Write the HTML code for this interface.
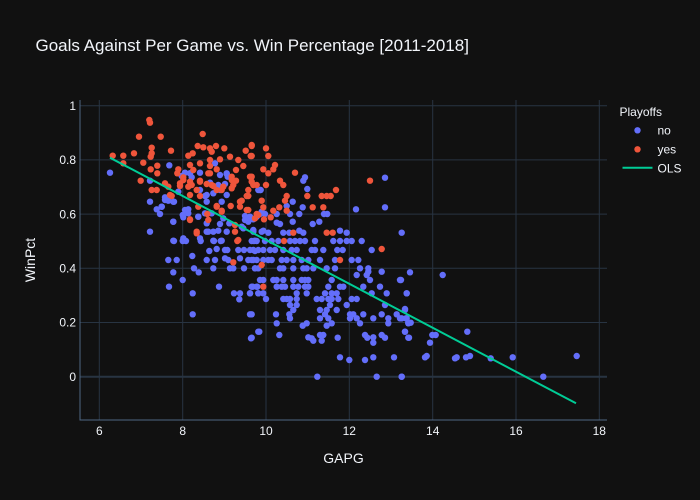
<!DOCTYPE html>
<html><head><meta charset="utf-8"><style>
html,body{margin:0;padding:0;background:#111111;}
svg{display:block;font-family:"Liberation Sans",Arial,sans-serif;}
</style></head><body>
<svg width="700" height="500" viewBox="0 0 700 500" xmlns="http://www.w3.org/2000/svg">
<rect width="700" height="500" fill="#111111"/>
<!-- grid -->
<g stroke="#283442" stroke-width="1">
<line x1="99.3" y1="100" x2="99.3" y2="420"/>
<line x1="182.7" y1="100" x2="182.7" y2="420"/>
<line x1="266" y1="100" x2="266" y2="420"/>
<line x1="349.3" y1="100" x2="349.3" y2="420"/>
<line x1="432.7" y1="100" x2="432.7" y2="420"/>
<line x1="516" y1="100" x2="516" y2="420"/>
<line x1="599.3" y1="100" x2="599.3" y2="420"/>
<line x1="80" y1="105.7" x2="607" y2="105.7"/>
<line x1="80" y1="159.9" x2="607" y2="159.9"/>
<line x1="80" y1="214.1" x2="607" y2="214.1"/>
<line x1="80" y1="268.3" x2="607" y2="268.3"/>
<line x1="80" y1="322.5" x2="607" y2="322.5"/>
</g>
<line x1="80" y1="376.7" x2="607" y2="376.7" stroke="#283442" stroke-width="2"/>
<!-- axis lines -->
<line x1="80" y1="100" x2="80" y2="420.5" stroke="#506784" stroke-width="1"/>
<line x1="79.5" y1="420" x2="607" y2="420" stroke="#506784" stroke-width="1"/>
<!-- tick labels -->
<g fill="#f2f5fa" font-size="12" text-anchor="middle">
<text x="99.3" y="435">6</text>
<text x="182.7" y="435">8</text>
<text x="266" y="435">10</text>
<text x="349.3" y="435">12</text>
<text x="432.7" y="435">14</text>
<text x="516" y="435">16</text>
<text x="599.3" y="435">18</text>
</g>
<g fill="#f2f5fa" font-size="12" text-anchor="end">
<text x="76" y="109.9">1</text>
<text x="76" y="164.1">0.8</text>
<text x="76" y="218.3">0.6</text>
<text x="76" y="272.5">0.4</text>
<text x="76" y="326.7">0.2</text>
<text x="76" y="380.9">0</text>
</g>
<!-- titles -->
<text x="35.5" y="51" fill="#f2f5fa" font-size="17">Goals Against Per Game vs. Win Percentage [2011-2018]</text>
<text x="343.5" y="463" fill="#f2f5fa" font-size="14" text-anchor="middle">GAPG</text>
<text x="0" y="0" fill="#f2f5fa" font-size="14" text-anchor="middle" transform="translate(35,260) rotate(-90)">WinPct</text>
<!-- no (blue) -->
<g fill="#636efa">
<circle cx="110" cy="172.7" r="3.2"/><circle cx="169.3" cy="165.3" r="3.2"/><circle cx="215" cy="163.3" r="3.2"/><circle cx="185" cy="172.7" r="3.2"/><circle cx="190" cy="173.3" r="3.2"/><circle cx="200" cy="172.7" r="3.2"/><circle cx="226.7" cy="173.3" r="3.2"/><circle cx="227.7" cy="176.7" r="3.2"/><circle cx="220" cy="175" r="3.2"/><circle cx="150" cy="180.7" r="3.2"/><circle cx="181.7" cy="176" r="3.2"/><circle cx="191.7" cy="177.3" r="3.2"/><circle cx="210" cy="182.7" r="3.2"/><circle cx="225" cy="184" r="3.2"/><circle cx="258.3" cy="190" r="3.2"/><circle cx="178.3" cy="191.7" r="3.2"/><circle cx="200" cy="190" r="3.2"/><circle cx="205" cy="196" r="3.2"/><circle cx="213.3" cy="193.3" r="3.2"/><circle cx="220" cy="190" r="3.2"/><circle cx="150" cy="201.7" r="3.2"/><circle cx="168.3" cy="200.7" r="3.2"/><circle cx="174" cy="201.7" r="3.2"/><circle cx="165" cy="197.3" r="3.2"/><circle cx="206.7" cy="201.7" r="3.2"/><circle cx="221.7" cy="201.7" r="3.2"/><circle cx="156.7" cy="209.3" r="3.2"/><circle cx="161.7" cy="206.7" r="3.2"/><circle cx="160" cy="214" r="3.2"/><circle cx="188.3" cy="209.3" r="3.2"/><circle cx="182.7" cy="215" r="3.2"/><circle cx="183.3" cy="217.3" r="3.2"/><circle cx="198.3" cy="216.7" r="3.2"/><circle cx="205" cy="213.3" r="3.2"/><circle cx="173.3" cy="221.7" r="3.2"/><circle cx="206.7" cy="223.3" r="3.2"/><circle cx="245" cy="216" r="3.2"/><circle cx="248.3" cy="221.7" r="3.2"/><circle cx="253.3" cy="219.3" r="3.2"/><circle cx="256.7" cy="216.7" r="3.2"/><circle cx="220" cy="224" r="3.2"/><circle cx="229.3" cy="223.3" r="3.2"/><circle cx="150" cy="231.7" r="3.2"/><circle cx="208.3" cy="231.7" r="3.2"/><circle cx="218.3" cy="230.7" r="3.2"/><circle cx="226.7" cy="231.7" r="3.2"/><circle cx="243.3" cy="228.3" r="3.2"/><circle cx="253.3" cy="230" r="3.2"/><circle cx="183.3" cy="238.3" r="3.2"/><circle cx="200" cy="238.3" r="3.2"/>
<circle cx="305" cy="177.3" r="3.2"/><circle cx="303.3" cy="180.7" r="3.2"/><circle cx="307.3" cy="189" r="3.2"/><circle cx="260.7" cy="190" r="3.2"/><circle cx="385" cy="177.7" r="3.2"/><circle cx="292.7" cy="201.7" r="3.2"/><circle cx="286.7" cy="206" r="3.2"/><circle cx="302.7" cy="207.3" r="3.2"/><circle cx="356" cy="209.3" r="3.2"/><circle cx="385" cy="207.3" r="3.2"/><circle cx="299.3" cy="214" r="3.2"/><circle cx="324" cy="214" r="3.2"/><circle cx="327.3" cy="214" r="3.2"/><circle cx="290" cy="214" r="3.2"/><circle cx="265" cy="214" r="3.2"/><circle cx="260" cy="214" r="3.2"/><circle cx="276.7" cy="214" r="3.2"/><circle cx="292.7" cy="221.7" r="3.2"/><circle cx="312.7" cy="224" r="3.2"/><circle cx="319.3" cy="221.7" r="3.2"/><circle cx="276.7" cy="222.7" r="3.2"/><circle cx="280" cy="224" r="3.2"/><circle cx="263.3" cy="230.7" r="3.2"/><circle cx="253.3" cy="230.7" r="3.2"/><circle cx="268.3" cy="232.7" r="3.2"/><circle cx="283.3" cy="232.7" r="3.2"/><circle cx="289.3" cy="232.7" r="3.2"/><circle cx="299.3" cy="230.7" r="3.2"/><circle cx="303.3" cy="232.7" r="3.2"/><circle cx="340" cy="230.7" r="3.2"/><circle cx="346.7" cy="232.7" r="3.2"/><circle cx="401.7" cy="232.7" r="3.2"/>
<circle cx="174" cy="241" r="3.2"/><circle cx="182.7" cy="241" r="3.2"/><circle cx="186" cy="241" r="3.2"/><circle cx="200.7" cy="241" r="3.2"/><circle cx="214" cy="241" r="3.2"/><circle cx="220.7" cy="241" r="3.2"/><circle cx="254" cy="241" r="3.2"/><circle cx="209.3" cy="251" r="3.2"/><circle cx="216.7" cy="249" r="3.2"/><circle cx="225" cy="250" r="3.2"/><circle cx="227.3" cy="250" r="3.2"/><circle cx="238.3" cy="250" r="3.2"/><circle cx="244" cy="250" r="3.2"/><circle cx="250" cy="250" r="3.2"/><circle cx="255" cy="251" r="3.2"/><circle cx="168.3" cy="260" r="3.2"/><circle cx="176.7" cy="260" r="3.2"/><circle cx="192.3" cy="256" r="3.2"/><circle cx="206.7" cy="260" r="3.2"/><circle cx="215" cy="260" r="3.2"/><circle cx="225" cy="258.3" r="3.2"/><circle cx="228.3" cy="260" r="3.2"/><circle cx="240" cy="258.3" r="3.2"/><circle cx="248.3" cy="260" r="3.2"/><circle cx="253.3" cy="260" r="3.2"/><circle cx="173.3" cy="272.3" r="3.2"/><circle cx="182.7" cy="280" r="3.2"/><circle cx="194" cy="268.3" r="3.2"/><circle cx="198.7" cy="272.3" r="3.2"/><circle cx="213.3" cy="268.3" r="3.2"/><circle cx="230" cy="268.3" r="3.2"/><circle cx="233.3" cy="268.3" r="3.2"/><circle cx="244" cy="268.3" r="3.2"/><circle cx="255" cy="268.3" r="3.2"/><circle cx="169" cy="286.7" r="3.2"/><circle cx="219" cy="286.7" r="3.2"/><circle cx="192.7" cy="293.3" r="3.2"/><circle cx="234" cy="293.3" r="3.2"/><circle cx="240" cy="293.3" r="3.2"/><circle cx="250" cy="293.3" r="3.2"/><circle cx="239.3" cy="299.3" r="3.2"/><circle cx="252.7" cy="286.7" r="3.2"/><circle cx="257.3" cy="286.7" r="3.2"/><circle cx="258.3" cy="293.3" r="3.2"/><circle cx="192.7" cy="314.3" r="3.2"/><circle cx="250" cy="314.3" r="3.2"/><circle cx="258.3" cy="331.7" r="3.2"/><circle cx="251" cy="338.3" r="3.2"/>
<circle cx="251.7" cy="241" r="3.2"/><circle cx="256.7" cy="241" r="3.2"/><circle cx="265" cy="241" r="3.2"/><circle cx="271.7" cy="241" r="3.2"/><circle cx="278.3" cy="241" r="3.2"/><circle cx="290" cy="241" r="3.2"/><circle cx="295" cy="241" r="3.2"/><circle cx="300" cy="241" r="3.2"/><circle cx="305" cy="241" r="3.2"/><circle cx="315" cy="241" r="3.2"/><circle cx="333.3" cy="241" r="3.2"/><circle cx="340" cy="241" r="3.2"/><circle cx="346.7" cy="241" r="3.2"/><circle cx="351.7" cy="241" r="3.2"/><circle cx="361.7" cy="241" r="3.2"/>
<circle cx="253.3" cy="250" r="3.2"/><circle cx="258.3" cy="250" r="3.2"/><circle cx="263.3" cy="250" r="3.2"/><circle cx="270" cy="250" r="3.2"/><circle cx="275" cy="250" r="3.2"/><circle cx="283.3" cy="250" r="3.2"/><circle cx="291.7" cy="250" r="3.2"/><circle cx="296.7" cy="250" r="3.2"/><circle cx="311.7" cy="250" r="3.2"/><circle cx="315" cy="250" r="3.2"/><circle cx="323.3" cy="250" r="3.2"/><circle cx="337.3" cy="250" r="3.2"/><circle cx="342.7" cy="250" r="3.2"/><circle cx="371.7" cy="250" r="3.2"/>
<circle cx="251.7" cy="260" r="3.2"/><circle cx="256.7" cy="260" r="3.2"/><circle cx="263.3" cy="260" r="3.2"/><circle cx="268.3" cy="260" r="3.2"/><circle cx="271.7" cy="260" r="3.2"/><circle cx="281.7" cy="260" r="3.2"/><circle cx="286.7" cy="260" r="3.2"/><circle cx="293.3" cy="260" r="3.2"/><circle cx="301.7" cy="260" r="3.2"/><circle cx="308.3" cy="260" r="3.2"/><circle cx="320" cy="260" r="3.2"/><circle cx="335" cy="260" r="3.2"/><circle cx="351.7" cy="260" r="3.2"/><circle cx="358.3" cy="260" r="3.2"/>
<circle cx="255" cy="268.3" r="3.2"/><circle cx="258.3" cy="268.3" r="3.2"/><circle cx="280" cy="268.3" r="3.2"/><circle cx="283.3" cy="268.3" r="3.2"/><circle cx="293.3" cy="268.3" r="3.2"/><circle cx="303.3" cy="268.3" r="3.2"/><circle cx="306.7" cy="268.3" r="3.2"/><circle cx="313.3" cy="268.3" r="3.2"/><circle cx="326.7" cy="268.3" r="3.2"/><circle cx="335" cy="268.3" r="3.2"/><circle cx="360" cy="268.3" r="3.2"/><circle cx="368.3" cy="268.3" r="3.2"/><circle cx="368.3" cy="271.7" r="3.2"/><circle cx="381.7" cy="271.7" r="3.2"/><circle cx="356.7" cy="275" r="3.2"/><circle cx="366.7" cy="275" r="3.2"/>
<circle cx="260" cy="280" r="3.2"/><circle cx="263.3" cy="280" r="3.2"/><circle cx="273.3" cy="280" r="3.2"/><circle cx="276.7" cy="280" r="3.2"/><circle cx="283.3" cy="280" r="3.2"/><circle cx="293.3" cy="280" r="3.2"/><circle cx="301.7" cy="280" r="3.2"/><circle cx="305" cy="280" r="3.2"/><circle cx="308.3" cy="280" r="3.2"/><circle cx="331.7" cy="280" r="3.2"/><circle cx="370" cy="280" r="3.2"/><circle cx="400" cy="280" r="3.2"/>
<circle cx="251.7" cy="286.7" r="3.2"/><circle cx="256.7" cy="286.7" r="3.2"/><circle cx="276.7" cy="286.7" r="3.2"/><circle cx="281.7" cy="286.7" r="3.2"/><circle cx="285" cy="286.7" r="3.2"/><circle cx="293.3" cy="286.7" r="3.2"/><circle cx="298.3" cy="286.7" r="3.2"/><circle cx="305" cy="286.7" r="3.2"/><circle cx="308.3" cy="286.7" r="3.2"/><circle cx="328.3" cy="286.7" r="3.2"/><circle cx="340" cy="286.7" r="3.2"/><circle cx="343.3" cy="286.7" r="3.2"/><circle cx="363.3" cy="286.7" r="3.2"/><circle cx="380" cy="286.7" r="3.2"/>
<circle cx="250" cy="293.3" r="3.2"/><circle cx="258.3" cy="293.3" r="3.2"/><circle cx="263.3" cy="293.3" r="3.2"/><circle cx="296.7" cy="293.3" r="3.2"/><circle cx="306.7" cy="293.3" r="3.2"/><circle cx="325" cy="293.3" r="3.2"/><circle cx="331.7" cy="293.3" r="3.2"/><circle cx="336.7" cy="293.3" r="3.2"/><circle cx="371.7" cy="293.3" r="3.2"/><circle cx="386.7" cy="293.3" r="3.2"/><circle cx="406.7" cy="293.3" r="3.2"/>
<circle cx="266" cy="299" r="3.2"/><circle cx="283.3" cy="299" r="3.2"/><circle cx="286.7" cy="299" r="3.2"/><circle cx="290" cy="299" r="3.2"/><circle cx="296.7" cy="299" r="3.2"/><circle cx="316.7" cy="299" r="3.2"/><circle cx="321.7" cy="299" r="3.2"/><circle cx="328.3" cy="299" r="3.2"/><circle cx="331.7" cy="299" r="3.2"/><circle cx="338.3" cy="299" r="3.2"/><circle cx="351.7" cy="299" r="3.2"/><circle cx="356.7" cy="299" r="3.2"/>
<circle cx="290" cy="305" r="3.2"/><circle cx="296.7" cy="305" r="3.2"/><circle cx="330" cy="305" r="3.2"/><circle cx="346.7" cy="305" r="3.2"/><circle cx="385" cy="305" r="3.2"/><circle cx="293.3" cy="310" r="3.2"/><circle cx="320" cy="310" r="3.2"/><circle cx="326.7" cy="310" r="3.2"/><circle cx="336.7" cy="310" r="3.2"/><circle cx="405" cy="310" r="3.2"/>
<circle cx="251.7" cy="314.3" r="3.2"/><circle cx="276" cy="314.3" r="3.2"/><circle cx="289.3" cy="314.3" r="3.2"/><circle cx="325" cy="314.3" r="3.2"/><circle cx="350" cy="314.3" r="3.2"/><circle cx="353.3" cy="314.3" r="3.2"/><circle cx="363.3" cy="314.3" r="3.2"/><circle cx="381.7" cy="314.3" r="3.2"/><circle cx="396.7" cy="314.3" r="3.2"/>
<circle cx="290" cy="318.3" r="3.2"/><circle cx="320" cy="318.3" r="3.2"/><circle cx="328.3" cy="318.3" r="3.2"/><circle cx="350" cy="318.3" r="3.2"/><circle cx="356.7" cy="318.3" r="3.2"/><circle cx="373.3" cy="318.3" r="3.2"/><circle cx="388.3" cy="318.3" r="3.2"/><circle cx="400" cy="318.3" r="3.2"/><circle cx="406.7" cy="318.3" r="3.2"/>
<circle cx="276.7" cy="323.3" r="3.2"/><circle cx="306.7" cy="323.3" r="3.2"/><circle cx="331.7" cy="323.3" r="3.2"/><circle cx="360" cy="323.3" r="3.2"/><circle cx="388.3" cy="323.3" r="3.2"/><circle cx="408.3" cy="323.3" r="3.2"/><circle cx="302.7" cy="325.7" r="3.2"/><circle cx="326.7" cy="325.7" r="3.2"/><circle cx="259.3" cy="331.7" r="3.2"/><circle cx="405" cy="331.7" r="3.2"/>
<circle cx="279.3" cy="335" r="3.2"/><circle cx="320" cy="335" r="3.2"/><circle cx="323.3" cy="335" r="3.2"/><circle cx="365" cy="335" r="3.2"/><circle cx="381.7" cy="335" r="3.2"/><circle cx="251.7" cy="337.7" r="3.2"/><circle cx="308.3" cy="337.3" r="3.2"/><circle cx="311.7" cy="338.3" r="3.2"/><circle cx="313.3" cy="340.7" r="3.2"/><circle cx="321.7" cy="340.7" r="3.2"/><circle cx="337.7" cy="337.7" r="3.2"/><circle cx="367.3" cy="337.7" r="3.2"/><circle cx="373.3" cy="337.3" r="3.2"/><circle cx="373.3" cy="342.7" r="3.2"/><circle cx="385" cy="337.7" r="3.2"/><circle cx="408.3" cy="337.7" r="3.2"/>
<circle cx="340" cy="357.3" r="3.2"/><circle cx="349.3" cy="360" r="3.2"/><circle cx="365" cy="360" r="3.2"/><circle cx="373.3" cy="357.3" r="3.2"/><circle cx="394" cy="357.3" r="3.2"/><circle cx="317.3" cy="376.7" r="3.2"/><circle cx="376.7" cy="376.7" r="3.2"/><circle cx="401.7" cy="376.7" r="3.2"/>
<circle cx="410" cy="272.3" r="3.2"/><circle cx="442.7" cy="275" r="3.2"/><circle cx="401" cy="280" r="3.2"/><circle cx="406.7" cy="293.3" r="3.2"/><circle cx="405" cy="309" r="3.2"/><circle cx="401.7" cy="318.3" r="3.2"/><circle cx="406" cy="318.3" r="3.2"/><circle cx="408.3" cy="322.7" r="3.2"/><circle cx="410.7" cy="322.7" r="3.2"/><circle cx="405" cy="331.7" r="3.2"/><circle cx="409" cy="337.7" r="3.2"/><circle cx="432.3" cy="335" r="3.2"/><circle cx="435.7" cy="335" r="3.2"/><circle cx="430" cy="342.7" r="3.2"/><circle cx="467.3" cy="331.7" r="3.2"/><circle cx="425" cy="357.3" r="3.2"/><circle cx="426.7" cy="356" r="3.2"/><circle cx="455" cy="358.3" r="3.2"/><circle cx="456.7" cy="357.3" r="3.2"/><circle cx="466" cy="357.3" r="3.2"/><circle cx="470" cy="356" r="3.2"/><circle cx="490.7" cy="358.3" r="3.2"/><circle cx="512.7" cy="357.3" r="3.2"/><circle cx="576.7" cy="356" r="3.2"/><circle cx="401.7" cy="376.7" r="3.2"/><circle cx="543.3" cy="376.7" r="3.2"/>
<circle cx="190" cy="173.3" r="3.2"/><circle cx="226.7" cy="174" r="3.2"/><circle cx="218.3" cy="185" r="3.2"/><circle cx="206.7" cy="195" r="3.2"/><circle cx="226.7" cy="195" r="3.2"/><circle cx="260" cy="190" r="3.2"/><circle cx="165" cy="200" r="3.2"/><circle cx="173.3" cy="201.7" r="3.2"/><circle cx="161.7" cy="206.7" r="3.2"/><circle cx="185" cy="210" r="3.2"/><circle cx="188.3" cy="213.3" r="3.2"/><circle cx="198.3" cy="216.7" r="3.2"/><circle cx="211.7" cy="213.3" r="3.2"/><circle cx="173.3" cy="221.7" r="3.2"/><circle cx="223.3" cy="218.3" r="3.2"/><circle cx="245" cy="220" r="3.2"/><circle cx="250" cy="216.7" r="3.2"/><circle cx="261.7" cy="211.7" r="3.2"/><circle cx="206.7" cy="231.7" r="3.2"/><circle cx="213.3" cy="231.7" r="3.2"/><circle cx="241.7" cy="226.7" r="3.2"/><circle cx="253.3" cy="231.7" r="3.2"/><circle cx="261.7" cy="231.7" r="3.2"/><circle cx="173.3" cy="240.7" r="3.2"/><circle cx="183.3" cy="240.7" r="3.2"/><circle cx="213.3" cy="240.7" r="3.2"/><circle cx="221.7" cy="240.7" r="3.2"/><circle cx="255" cy="240.7" r="3.2"/>
</g>
<!-- yes (red) -->
<g fill="#ef553b">
<circle cx="149.3" cy="120" r="3.2"/><circle cx="150" cy="122.7" r="3.2"/><circle cx="139" cy="136.7" r="3.2"/><circle cx="160.7" cy="136.7" r="3.2"/><circle cx="202.7" cy="134" r="3.2"/><circle cx="112.7" cy="155.7" r="3.2"/><circle cx="123.3" cy="155.7" r="3.2"/><circle cx="134" cy="153.3" r="3.2"/><circle cx="151.7" cy="147.7" r="3.2"/><circle cx="151.7" cy="153.3" r="3.2"/><circle cx="150.7" cy="156.7" r="3.2"/><circle cx="171" cy="150.7" r="3.2"/><circle cx="197.7" cy="146" r="3.2"/><circle cx="203.3" cy="147.3" r="3.2"/><circle cx="210" cy="148.3" r="3.2"/><circle cx="216" cy="146" r="3.2"/><circle cx="224.3" cy="148.3" r="3.2"/><circle cx="211.7" cy="151.7" r="3.2"/><circle cx="192.7" cy="153.3" r="3.2"/><circle cx="188.3" cy="155.7" r="3.2"/><circle cx="245.7" cy="150.7" r="3.2"/><circle cx="251.7" cy="146" r="3.2"/><circle cx="250.7" cy="156" r="3.2"/>
<circle cx="123.3" cy="163.3" r="3.2"/><circle cx="143.3" cy="162.7" r="3.2"/><circle cx="157.3" cy="165.7" r="3.2"/><circle cx="150.7" cy="169.3" r="3.2"/><circle cx="157.3" cy="173.3" r="3.2"/><circle cx="140.7" cy="180.7" r="3.2"/><circle cx="210" cy="160" r="3.2"/><circle cx="220" cy="159.3" r="3.2"/><circle cx="230" cy="156.7" r="3.2"/><circle cx="238.3" cy="160" r="3.2"/><circle cx="200" cy="163.3" r="3.2"/><circle cx="190" cy="165" r="3.2"/><circle cx="193.3" cy="170" r="3.2"/><circle cx="210" cy="166" r="3.2"/><circle cx="216.7" cy="169.3" r="3.2"/><circle cx="208.3" cy="173.3" r="3.2"/><circle cx="178.3" cy="169.3" r="3.2"/><circle cx="177.3" cy="173.3" r="3.2"/><circle cx="236" cy="170" r="3.2"/><circle cx="243.3" cy="166" r="3.2"/><circle cx="231.7" cy="176.7" r="3.2"/><circle cx="236" cy="180.7" r="3.2"/><circle cx="250" cy="176.7" r="3.2"/><circle cx="251.7" cy="181.7" r="3.2"/><circle cx="183.3" cy="180" r="3.2"/><circle cx="190" cy="181.7" r="3.2"/><circle cx="200" cy="180.7" r="3.2"/><circle cx="165" cy="183.3" r="3.2"/><circle cx="180" cy="186" r="3.2"/><circle cx="188.3" cy="186.7" r="3.2"/><circle cx="196.7" cy="190" r="3.2"/><circle cx="206.7" cy="184" r="3.2"/><circle cx="213.3" cy="186" r="3.2"/><circle cx="216.7" cy="190" r="3.2"/><circle cx="223.3" cy="186.7" r="3.2"/><circle cx="231.7" cy="188.3" r="3.2"/><circle cx="248.3" cy="190" r="3.2"/><circle cx="151.7" cy="190" r="3.2"/><circle cx="156.7" cy="190" r="3.2"/><circle cx="168.3" cy="186.7" r="3.2"/><circle cx="190" cy="195" r="3.2"/><circle cx="200" cy="196" r="3.2"/><circle cx="246.7" cy="196" r="3.2"/><circle cx="241.7" cy="200.7" r="3.2"/><circle cx="171.7" cy="196" r="3.2"/><circle cx="216.7" cy="206.7" r="3.2"/><circle cx="230.7" cy="206" r="3.2"/><circle cx="240" cy="206.7" r="3.2"/><circle cx="221.7" cy="210.7" r="3.2"/><circle cx="248.3" cy="210" r="3.2"/><circle cx="190" cy="219.3" r="3.2"/><circle cx="207.3" cy="214" r="3.2"/><circle cx="208.3" cy="220" r="3.2"/><circle cx="235" cy="225" r="3.2"/><circle cx="196.7" cy="233.3" r="3.2"/>
<circle cx="251.7" cy="145" r="3.2"/><circle cx="266" cy="148.3" r="3.2"/><circle cx="268.3" cy="156" r="3.2"/><circle cx="251.7" cy="156" r="3.2"/><circle cx="275" cy="165" r="3.2"/><circle cx="273.3" cy="169.3" r="3.2"/><circle cx="263.3" cy="169.3" r="3.2"/><circle cx="268.3" cy="173.3" r="3.2"/><circle cx="295" cy="172.7" r="3.2"/><circle cx="280" cy="180.7" r="3.2"/><circle cx="283.3" cy="185" r="3.2"/><circle cx="266" cy="185" r="3.2"/><circle cx="253.3" cy="185" r="3.2"/><circle cx="251.7" cy="176.7" r="3.2"/><circle cx="370" cy="180.7" r="3.2"/><circle cx="336" cy="190" r="3.2"/><circle cx="321.7" cy="196" r="3.2"/><circle cx="326.7" cy="196" r="3.2"/><circle cx="330.7" cy="196" r="3.2"/><circle cx="307.3" cy="196" r="3.2"/><circle cx="286.7" cy="196" r="3.2"/><circle cx="285" cy="200.7" r="3.2"/><circle cx="261.7" cy="200.7" r="3.2"/><circle cx="263.3" cy="207.3" r="3.2"/><circle cx="279.3" cy="207.3" r="3.2"/><circle cx="286.7" cy="210.7" r="3.2"/><circle cx="312.7" cy="207.3" r="3.2"/><circle cx="323.3" cy="207.3" r="3.2"/><circle cx="273.3" cy="210.7" r="3.2"/><circle cx="256.7" cy="214" r="3.2"/><circle cx="255" cy="218.3" r="3.2"/><circle cx="270.7" cy="217.3" r="3.2"/><circle cx="264" cy="219.3" r="3.2"/><circle cx="293.3" cy="232.7" r="3.2"/><circle cx="326.7" cy="232.7" r="3.2"/><circle cx="332.7" cy="232.7" r="3.2"/>
<circle cx="237.3" cy="241" r="3.2"/><circle cx="233.3" cy="262.3" r="3.2"/><circle cx="284" cy="241" r="3.2"/><circle cx="381.7" cy="249" r="3.2"/><circle cx="340" cy="260" r="3.2"/><circle cx="261.7" cy="265" r="3.2"/><circle cx="263.3" cy="286.7" r="3.2"/>
<circle cx="180" cy="183.3" r="3.2"/><circle cx="183.3" cy="177.3" r="3.2"/><circle cx="191.7" cy="185" r="3.2"/><circle cx="200" cy="181.7" r="3.2"/><circle cx="210" cy="173.3" r="3.2"/><circle cx="211.7" cy="185" r="3.2"/><circle cx="221.7" cy="190" r="3.2"/><circle cx="231.7" cy="180" r="3.2"/><circle cx="233.3" cy="185" r="3.2"/><circle cx="248.3" cy="196" r="3.2"/><circle cx="256.7" cy="185" r="3.2"/><circle cx="170" cy="195" r="3.2"/><circle cx="198.3" cy="206.7" r="3.2"/><circle cx="216.7" cy="206" r="3.2"/><circle cx="221.7" cy="211.7" r="3.2"/><circle cx="240" cy="201.7" r="3.2"/><circle cx="246.7" cy="210" r="3.2"/><circle cx="258.3" cy="215" r="3.2"/><circle cx="196.7" cy="231.7" r="3.2"/><circle cx="235" cy="231.7" r="3.2"/><circle cx="190" cy="220" r="3.2"/><circle cx="238.3" cy="240" r="3.2"/>
</g>
<!-- OLS -->
<line x1="110" y1="157.7" x2="576" y2="403.3" stroke="#00cc96" stroke-width="2"/>
<!-- legend -->
<text x="619.5" y="116" fill="#f2f5fa" font-size="12">Playoffs</text>
<circle cx="637.5" cy="130.3" r="3.2" fill="#636efa"/>
<text x="657.5" y="134.5" fill="#f2f5fa" font-size="12">no</text>
<circle cx="637.5" cy="149.3" r="3.2" fill="#ef553b"/>
<text x="657.5" y="153.5" fill="#f2f5fa" font-size="12">yes</text>
<line x1="622.5" y1="167.8" x2="652.5" y2="167.8" stroke="#00cc96" stroke-width="2"/>
<text x="657.5" y="172.5" fill="#f2f5fa" font-size="12">OLS</text>
</svg>
</body></html>
